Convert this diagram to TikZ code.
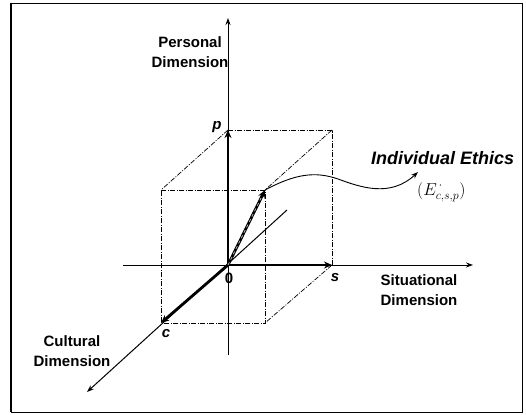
\documentclass[tikz,border=0pt]{standalone}
\usepackage{fontspec}
\setsansfont{Liberation Sans}
\usetikzlibrary{arrows.meta}

\begin{document}
\begin{tikzpicture}[x=1pt, y=-1pt,
    every node/.style={font=\sffamily\bfseries\fontsize{15}{20}\selectfont, inner sep=0pt},
    axis/.style={line width=1pt, -{Stealth[length=7pt,width=5pt]}},
    vec/.style={line width=2.8pt, -{Stealth[length=8pt,width=7pt]}},
    boxedge/.style={line width=0.7pt, dash pattern=on 5pt off 1.5pt on 1pt off 1.5pt},
    dimlabel/.style={align=center},
    letter/.style={font=\sffamily\bfseries\itshape\fontsize{15}{16}\selectfont}]
    \useasboundingbox (0,0) rectangle (526,414);
    % frame
    \draw[line width=0.8pt] (11,3) rectangle (522,412);
    \draw[line width=2pt] (11,3) -- (11,412);
    % corners of the box
    \coordinate (O) at (228,265);
    \coordinate (P) at (228,130);
    \coordinate (S) at (332,265);
    \coordinate (PS) at (332,130);
    \coordinate (C) at (161,323);
    \coordinate (CP) at (161,190);
    \coordinate (CS) at (265,323);
    \coordinate (CPS) at (265,190);
    % axis ends
    \coordinate (pbot) at (228,355);
    \coordinate (ptop) at (228,18);
    \coordinate (sleft) at (123,265);
    \coordinate (sright) at (473,265);
    \coordinate (cback) at (287,210);
    \coordinate (cend) at (87,392);
    % box edges
    \draw[boxedge] (P) -- (PS) -- (S);
    \draw[boxedge] (P) -- (CP);
    \draw[boxedge] (PS) -- (CPS);
    \draw[boxedge] (S) -- (CS);
    \draw[boxedge] (CP) -- (CPS) -- (CS) -- (C) -- cycle;
    % axes
    \draw[axis] (pbot) -- (ptop);
    \draw[axis] (sleft) -- (sright);
    \draw[axis] (cback) -- (cend);
    % vectors
    \draw[vec] (O) -- (P);
    \draw[vec] (O) -- (S);
    \draw[vec] (O) -- (C);
    \draw[vec] (O) -- (CPS);
    \draw[gray!60, line width=0.8pt, dashed, shorten >=9pt] (O) -- (CPS);
    % labels
    \node[dimlabel] (pdim) at (190,52) {Personal\\Dimension};
    \node[dimlabel] (sdim) at (419,290) {Situational\\Dimension};
    \node[dimlabel] (cdim) at (72,351) {Cultural\\Dimension};
    \node[letter] (plab) at (217,127) {p};
    \node (olab) at (229,278) {0};
    \node[letter] (slab) at (335,278) {s};
    \node[letter] (clab) at (166,334) {c};
    \node[anchor=base west, font=\sffamily\bfseries\itshape\fontsize{18}{20}\selectfont] (ethics) at (371,164) {Individual Ethics};
    \node[anchor=base west, font=\fontsize{18}{20}\selectfont] (evec) at (417,195) {$(E_{c,s,p}^{\,\cdot})$};
    \coordinate (wtip) at (418,172);
    \draw[line width=0.9pt, -{Stealth[length=7pt,width=5pt]}] (CPS) .. controls (295,174) and (315,171) .. (338,179)
        .. controls (360,187) and (390,198) .. (wtip);
\end{tikzpicture}
\end{document}
